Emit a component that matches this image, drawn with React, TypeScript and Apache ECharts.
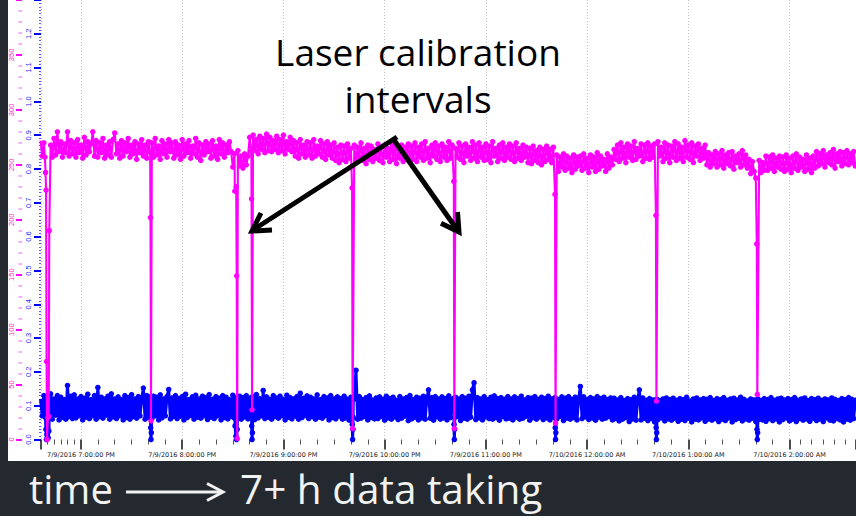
import React, { useEffect, useRef } from 'react';
import * as echarts from 'echarts';

// Upper trace (left outer scale, 0–400): one reading per minute from 7/9/2016 6:36 PM
const pinkReadings = [
  272, 258, 270, 256, 273, 260, 268, 257, 274, 259, 280, 262, 271, 257, 269, 261, 280, 258, 272, 260,
  270, 257, 273, 261, 268, 256, 275, 259, 271, 262, 269, 280, 258, 272, 257, 270, 261, 274, 256, 268,
  259, 271, 257, 273, 279, 260, 269, 256, 272, 258, 270, 262, 274, 257, 268, 260, 271, 255, 269, 261,
  273, 258, 268, 256, 271, 261, 270, 257, 274, 259, 267, 255, 272, 260, 269, 257, 273, 262, 270, 256,
  271, 259, 268, 255, 273, 258, 269, 261, 272, 256, 267, 260, 274, 257, 270, 254, 268, 259, 271, 262,
  269, 256, 272, 258, 267, 255, 273, 260, 270, 257, 268, 261, 271, 262, 248, 260, 250, 263, 249, 258,
  247, 260, 250, 258, 275, 262, 277, 263, 273, 260, 276, 264, 274, 261, 278, 263, 275, 262, 272, 264,
  276, 261, 273, 263, 277, 260, 271, 264, 275, 262, 272, 258, 270, 256, 273, 260, 268, 257, 271, 259,
  270, 256, 273, 258, 267, 260, 272, 257, 269, 255, 271, 259, 268, 256, 270, 254, 266, 252, 268, 255,
  267, 253, 269, 256, 265, 254, 268, 252, 266, 257, 270, 254, 265, 251, 268, 255, 267, 253, 264, 256,
  269, 254, 266, 252, 268, 257, 265, 253, 270, 255, 267, 251, 264, 256, 268, 253, 266, 258, 269, 254,
  267, 255, 270, 253, 266, 257, 269, 254, 271, 256, 265, 252, 268, 258, 270, 255, 267, 253, 269, 257,
  266, 254, 271, 256, 268, 253, 265, 257, 270, 255, 267, 252, 269, 258, 266, 254, 271, 256, 268, 253,
  270, 257, 266, 254, 269, 255, 267, 252, 271, 258, 265, 253, 268, 256, 270, 254, 266, 257, 269, 255,
  267, 253, 270, 256, 265, 254, 268, 257, 266, 252, 265, 251, 267, 254, 263, 252, 266, 250, 264, 253,
  267, 255, 264, 252, 266, 246, 259, 244, 257, 248, 260, 245, 258, 247, 256, 243, 259, 246, 257, 249,
  258, 245, 260, 247, 256, 243, 259, 248, 257, 244, 261, 246, 258, 249, 255, 244, 260, 247, 257, 250,
  264, 255, 268, 253, 270, 256, 266, 252, 269, 257, 267, 254, 271, 255, 265, 258, 269, 253, 268, 256,
  270, 255, 267, 257, 269, 254, 271, 258, 266, 253, 270, 256, 268, 252, 267, 257, 271, 254, 269, 256,
  266, 253, 272, 257, 268, 255, 270, 252, 267, 258, 269, 254, 265, 256, 268, 250, 261, 248, 259, 251,
  262, 248, 260, 250, 263, 247, 259, 251, 261, 249, 262, 246, 258, 252, 260, 248, 263, 250, 259, 247,
  255, 242, 253, 244, 238, 241, 254, 243, 252, 245, 258, 245, 257, 247, 259, 244, 256, 248, 258, 246,
  257, 244, 259, 246, 256, 243, 258, 247, 260, 245, 257, 248, 255, 244, 259, 246, 256, 243, 258, 247,
  262, 249, 260, 251, 263, 248, 259, 252, 261, 250, 264, 247, 260, 253, 262, 249, 261, 251, 263, 250,
  260, 252, 262, 249,
];

// Lower trace (left inner scale, 0.0–1.3): one reading per minute over the same span
const blueReadings = [
  0.12, 0.07, 0.13, 0.06, 0.125, 0.065, 0.135, 0.06, 0.12, 0.072, 0.13, 0.058, 0.125, 0.066, 0.118, 0.06, 0.16, 0.068, 0.128, 0.062,
  0.132, 0.064, 0.12, 0.07, 0.127, 0.058, 0.122, 0.066, 0.134, 0.062, 0.118, 0.07, 0.13, 0.06, 0.154, 0.068, 0.125, 0.063, 0.12, 0.072,
  0.128, 0.06, 0.135, 0.067, 0.12, 0.062, 0.126, 0.07, 0.118, 0.058, 0.13, 0.065, 0.124, 0.06, 0.133, 0.068, 0.12, 0.063, 0.127, 0.07,
  0.122, 0.152, 0.06, 0.13, 0.066, 0.119, 0.062, 0.128, 0.07, 0.125, 0.058, 0.132, 0.064, 0.12, 0.07, 0.127, 0.148, 0.061, 0.123, 0.068,
  0.13, 0.062, 0.121, 0.069, 0.127, 0.058, 0.134, 0.065, 0.118, 0.071, 0.126, 0.06, 0.131, 0.066, 0.12, 0.063, 0.128, 0.07, 0.124, 0.059,
  0.133, 0.066, 0.119, 0.062, 0.127, 0.07, 0.122, 0.058, 0.13, 0.065, 0.125, 0.061, 0.118, 0.068, 0.131, 0.063, 0.122, 0.07, 0.128, 0.06,
  0.124, 0.067, 0.13, 0.061, 0.12, 0.069, 0.127, 0.059, 0.133, 0.064, 0.121, 0.07, 0.145, 0.062, 0.126, 0.066, 0.119, 0.06, 0.13, 0.068,
  0.123, 0.063, 0.128, 0.07, 0.118, 0.058, 0.131, 0.066, 0.124, 0.061, 0.12, 0.069, 0.127, 0.06, 0.137, 0.065, 0.122, 0.071, 0.129, 0.062,
  0.125, 0.068, 0.12, 0.06, 0.132, 0.066, 0.118, 0.063, 0.127, 0.07, 0.123, 0.058, 0.13, 0.065, 0.12, 0.061, 0.126, 0.069, 0.121, 0.06,
  0.128, 0.064, 0.119, 0.057, 0.125, 0.066, 0.12, 0.205, 0.06, 0.127, 0.063, 0.118, 0.068, 0.124, 0.058, 0.129, 0.065, 0.117, 0.061, 0.123,
  0.062, 0.126, 0.068, 0.119, 0.057, 0.128, 0.064, 0.121, 0.06, 0.125, 0.067, 0.116, 0.059, 0.127, 0.063, 0.12, 0.069, 0.124, 0.056, 0.13,
  0.061, 0.118, 0.066, 0.125, 0.058, 0.122, 0.064, 0.128, 0.06, 0.119, 0.147, 0.063, 0.124, 0.057, 0.127, 0.067, 0.12, 0.06, 0.126, 0.064,
  0.121, 0.058, 0.129, 0.065, 0.118, 0.061, 0.125, 0.068, 0.12, 0.056, 0.127, 0.063, 0.122, 0.06, 0.128, 0.066, 0.147, 0.168, 0.059, 0.124,
  0.064, 0.12, 0.058, 0.127, 0.067, 0.118, 0.062, 0.125, 0.06, 0.129, 0.065, 0.121, 0.057, 0.124, 0.068, 0.119, 0.061, 0.127, 0.063, 0.12,
  0.058, 0.126, 0.066, 0.121, 0.06, 0.128, 0.063, 0.117, 0.069, 0.124, 0.057, 0.122, 0.065, 0.127, 0.06, 0.119, 0.067, 0.125, 0.059, 0.121,
  0.064, 0.128, 0.058, 0.12, 0.066, 0.124, 0.061, 0.118, 0.068, 0.126, 0.056, 0.122, 0.063, 0.127, 0.06, 0.119, 0.065, 0.125, 0.058, 0.121,
  0.157, 0.062, 0.126, 0.067, 0.118, 0.059, 0.124, 0.064, 0.12, 0.057, 0.127, 0.066, 0.121, 0.06, 0.125, 0.063, 0.118, 0.068, 0.123, 0.058,
  0.122, 0.062, 0.117, 0.055, 0.124, 0.06, 0.115, 0.065, 0.121, 0.053, 0.118, 0.061, 0.125, 0.057, 0.12, 0.147, 0.058, 0.123, 0.063, 0.116,
  0.056, 0.121, 0.062, 0.117, 0.052, 0.124, 0.059, 0.115, 0.064, 0.12, 0.055, 0.123, 0.061, 0.118, 0.057, 0.122, 0.063, 0.116, 0.054, 0.121,
  0.06, 0.118, 0.056, 0.125, 0.063, 0.114, 0.052, 0.12, 0.06, 0.123, 0.058, 0.117, 0.064, 0.121, 0.054, 0.119, 0.061, 0.124, 0.057, 0.115,
  0.062, 0.121, 0.053, 0.118, 0.06, 0.124, 0.056, 0.116, 0.064, 0.12, 0.052, 0.122, 0.059, 0.117, 0.063, 0.125, 0.055, 0.119, 0.061, 0.114,
  0.057, 0.12, 0.063, 0.117, 0.053, 0.123, 0.06, 0.115, 0.058, 0.121, 0.054, 0.118, 0.062, 0.124, 0.056, 0.116, 0.061, 0.12, 0.052, 0.122,
  0.059, 0.117, 0.064, 0.121, 0.055, 0.118, 0.06, 0.124, 0.053, 0.116, 0.062, 0.12, 0.057, 0.123, 0.061, 0.115, 0.054, 0.121, 0.063, 0.118,
  0.056, 0.122, 0.06, 0.116, 0.053, 0.12, 0.064, 0.117, 0.057, 0.123, 0.055, 0.119, 0.062, 0.115, 0.058, 0.121, 0.052, 0.118, 0.06, 0.124,
  0.057, 0.119, 0.062, 0.116,
];

// Readings taken while the laser calibration runs: [minutes after 6:36 PM, value]
const pinkCalibration = [
  [2.6, 257], [3.0, 243], [3.3, 227], [3.6, 71], [3.9, 0], [4.4, 20], [4.9, 21], [5.2, 190],
  [65.2, 202], [65.5, 17],
  [115.2, 226], [116.0, 230], [116.3, 149], [116.6, 1],
  [125.1, 219], [125.4, 27],
  [184.7, 229], [185.0, 10],
  [245.0, 235], [245.3, 10],
  [305.0, 223], [305.3, 15],
  [364.8, 204], [365.1, 35],
  [424.6, 178], [424.9, 41],
];

const blueCalibration = [
  [2.7, 0.125], [2.95, 0.065], [3.2, 0.03], [3.5, 0.0], [3.8, 0.015], [4.2, 0.035], [4.6, 0.005], [5.0, 0.025], [5.2, 0.07], [5.4, 0.128],
  [65.1, 0.126], [65.2, 0.064], [65.3, 0.035], [65.5, 0.0], [65.7, 0.02], [65.8, 0.068], [65.9, 0.124],
  [115.2, 0.123], [115.3, 0.04], [115.8, 0.01], [116.2, 0.0], [116.6, 0.03], [116.75, 0.066], [116.85, 0.127],
  [125.1, 0.125], [125.2, 0.04], [125.4, 0.0], [125.6, 0.02], [125.7, 0.067], [125.8, 0.121],
  [184.65, 0.12], [184.8, 0.045], [185.0, 0.0], [185.2, 0.03], [185.3, 0.066], [185.4, 0.124],
  [244.95, 0.122], [245.1, 0.045], [245.3, 0.0], [245.5, 0.03], [245.6, 0.066], [245.7, 0.123],
  [304.95, 0.124], [305.1, 0.035], [305.3, 0.0], [305.5, 0.02], [305.6, 0.062], [305.7, 0.12],
  [364.75, 0.118], [364.9, 0.035], [365.1, 0.0], [365.3, 0.02], [365.4, 0.058], [365.5, 0.119],
  [424.55, 0.117], [424.7, 0.03], [424.9, 0.0], [425.1, 0.02], [425.2, 0.057], [425.3, 0.12],
];

// Calibration spans (minutes after 6:36 PM) during which regular readings are replaced
const calibrationSpans = [
  [2.5, 5.5], [65.05, 65.95], [115.1, 116.9], [125.05, 125.9], [184.6, 185.5],
  [244.9, 245.8], [304.9, 305.8], [364.7, 365.6], [424.5, 425.4],
];

const START = new Date(2016, 6, 9, 18, 36, 0).getTime();
const VIEW_START = new Date(2016, 6, 9, 18, 36, 18).getTime();
const VIEW_END = new Date(2016, 6, 10, 2, 39, 24).getTime();
const MINUTE = 60000;

function buildTrace(readings: number[], calibration: number[][]) {
  const pts: number[][] = [];
  readings.forEach((v, m) => {
    if (calibrationSpans.some(([a, b]) => m > a && m < b)) return;
    pts.push([m, v]);
  });
  calibration.forEach(([m, v]) => pts.push([m, v]));
  pts.sort((a, b) => a[0] - b[0]);
  return pts.map(([m, v]) => [START + m * MINUTE, v]);
}

const pad = (n: number) => (n < 10 ? '0' + n : '' + n);
function timeLabel(value: number) {
  const d = new Date(value);
  const h = d.getHours();
  const h12 = h % 12 === 0 ? 12 : h % 12;
  const ap = h < 12 ? 'AM' : 'PM';
  return `${d.getMonth() + 1}/${d.getDate()}/${d.getFullYear()} ${h12}:${pad(d.getMinutes())}:${pad(d.getSeconds())} ${ap}`;
}

export default function App() {
  const ref = useRef<HTMLDivElement>(null);

  useEffect(() => {
    if (!ref.current) return;
    const chart = echarts.init(ref.current, undefined, { renderer: 'svg' });

    const lineSeries = (name: string, data: number[][], color: string, yAxisIndex: number, z: number, width: number) => ({
      name,
      type: 'line',
      yAxisIndex,
      data,
      z,
      symbol: 'circle',
      symbolSize: 5.5,
      showSymbol: true,
      showAllSymbol: true,
      silent: true,
      lineStyle: { color, width },
      itemStyle: { color, borderWidth: 0 },
    });

    chart.setOption({
      animation: false,
      backgroundColor: '#23292e',
      grid: { left: 41, right: 0, top: -13, bottom: 76.5 },
      xAxis: {
        type: 'time',
        min: VIEW_START,
        max: VIEW_END,
        minInterval: 3600000,
        maxInterval: 3600000,
        axisLine: { show: false },
        axisTick: { show: true, length: 10, lineStyle: { color: '#111', width: 1.5 } },
        minorTick: { show: true, splitNumber: 6, length: 5, lineStyle: { color: '#555', width: 1 } },
        splitLine: { show: true, lineStyle: { color: '#c4c4c4', type: [1, 2], width: 1 } },
        axisLabel: {
          formatter: (v: number) => timeLabel(v),
          fontSize: 6.5,
          fontFamily: 'DejaVu Sans',
          color: '#222',
          margin: 12,
          showMinLabel: false,
          showMaxLabel: false,
          hideOverlap: false,
        },
      },
      yAxis: [
        {
          type: 'value',
          position: 'left',
          offset: 19,
          min: 0,
          max: 400,
          interval: 50,
          axisLine: { show: false },
          axisTick: { show: true, length: 6, lineStyle: { color: '#ff00ff', width: 2 } },
          minorTick: { show: true, splitNumber: 5, length: 3.5, lineStyle: { color: '#ff88ff', width: 1.5 } },
          splitLine: { show: false },
          axisLabel: { rotate: 90, fontSize: 7.5, fontFamily: 'Liberation Sans', color: '#ff22cc', margin: 7, showMaxLabel: false },
        },
        {
          type: 'value',
          position: 'left',
          offset: 0,
          min: 0,
          max: 1.3,
          interval: 0.1,
          axisLine: { show: false },
          axisTick: { show: true, length: 7, lineStyle: { color: '#0000ff', width: 2 } },
          minorTick: { show: true, splitNumber: 10, length: 2, lineStyle: { color: '#5a5aff', width: 1 } },
          splitLine: { show: false },
          axisLabel: {
            rotate: 90,
            fontSize: 7.5,
            fontFamily: 'Liberation Sans',
            color: '#2a2aff',
            margin: 9,
            showMaxLabel: false,
            formatter: (v: number) => v.toFixed(1),
          },
        },
      ],
      series: [
        lineSeries('lower', buildTrace(blueReadings, blueCalibration), '#0000ff', 1, 2, 3),
        lineSeries('upper', buildTrace(pinkReadings, pinkCalibration), '#ff00ff', 0, 3, 2.1),
      ],
      graphic: [
        { type: 'rect', z: -10, silent: true, shape: { x: 8, y: 0, width: 848, height: 461 }, style: { fill: '#ffffff' } },
        {
          type: 'text', z: 50, silent: true,
          style: { text: 'Laser calibration', x: 418, y: 51, fill: '#000', font: '37px "Open Sans"', textAlign: 'center', textVerticalAlign: 'middle' },
        },
        {
          type: 'text', z: 50, silent: true,
          style: { text: 'intervals', x: 418, y: 98, fill: '#000', font: '37px "Open Sans"', textAlign: 'center', textVerticalAlign: 'middle' },
        },
        { type: 'line', z: 50, silent: true, shape: { x1: 397, y1: 137, x2: 253, y2: 230 }, style: { stroke: '#000', lineWidth: 5 } },
        { type: 'polyline', z: 50, silent: true, shape: { points: [[272, 230], [252, 231], [261, 213]] }, style: { stroke: '#000', lineWidth: 5, fill: null } },
        { type: 'line', z: 50, silent: true, shape: { x1: 394, y1: 140, x2: 458, y2: 231 }, style: { stroke: '#000', lineWidth: 5 } },
        { type: 'polyline', z: 50, silent: true, shape: { points: [[457.5, 212], [459, 232], [441, 223.3]] }, style: { stroke: '#000', lineWidth: 5, fill: null } },
        {
          type: 'text', z: 50, silent: true,
          style: { text: 'time', x: 29, y: 488, fill: '#f2f2f2', font: '40px "Open Sans"', textAlign: 'left', textVerticalAlign: 'middle' },
        },
        { type: 'line', z: 50, silent: true, shape: { x1: 126, y1: 492, x2: 222, y2: 492 }, style: { stroke: '#f2f2f2', lineWidth: 3 } },
        { type: 'polyline', z: 50, silent: true, shape: { points: [[207, 483.5], [223, 492], [207, 500.5]] }, style: { stroke: '#f2f2f2', lineWidth: 3, fill: null } },
        {
          type: 'text', z: 50, silent: true,
          style: { text: '7+ h data taking', x: 240, y: 488, fill: '#f2f2f2', font: '40.5px "Open Sans"', textAlign: 'left', textVerticalAlign: 'middle' },
        },
      ],
    });

    return () => chart.dispose();
  }, []);

  return <div ref={ref} style={{ position: 'fixed', left: 0, top: 0, width: 856, height: 516 }} />;
}
